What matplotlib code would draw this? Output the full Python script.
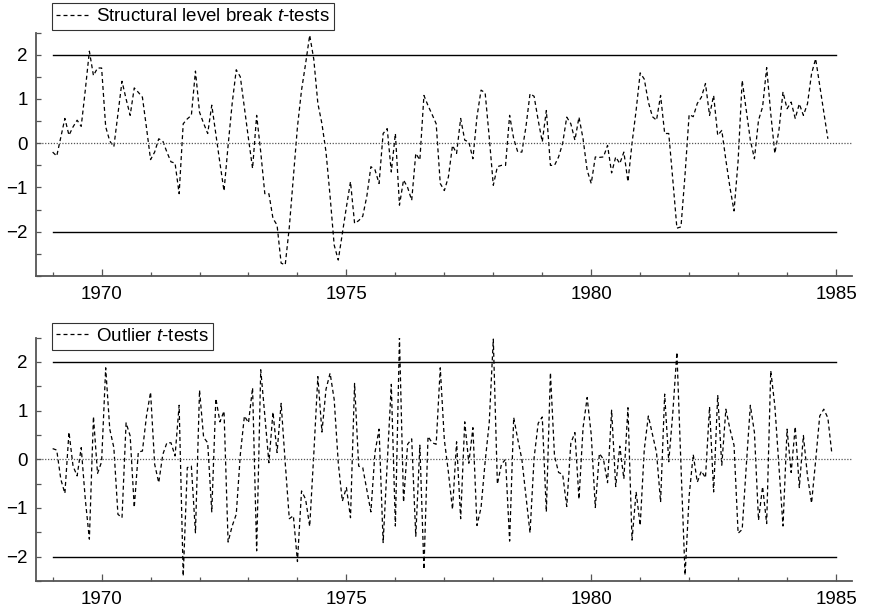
import matplotlib

matplotlib.use("Agg")
import matplotlib.pyplot as plt
import numpy as np

plt.rcParams["font.family"] = ["Liberation Sans", "DejaVu Sans"]
plt.rcParams["mathtext.fontset"] = "custom"
plt.rcParams["mathtext.rm"] = "Liberation Sans"
plt.rcParams["mathtext.it"] = "Liberation Sans:italic"

# Monthly t-statistics, first observation 1969:1
start_year = 1969.0

level_break_t = [
    -0.20, -0.29, 0.14, 0.56, 0.18, 0.37, 0.52, 0.38, 1.20, 2.08, 1.53, 1.70,
    1.70, 0.37, 0.05, -0.08, 0.67, 1.40, 1.00, 0.63, 1.25, 1.15, 1.04, 0.35,
    -0.37, -0.20, 0.10, 0.05, -0.20, -0.42, -0.45, -1.14, 0.44, 0.55, 0.63, 1.63,
    0.70, 0.45, 0.22, 0.86, 0.20, -0.45, -1.08, -0.05, 0.90, 1.66, 1.50, 0.80,
    0.10, -0.57, 0.63, -0.20, -1.14, -1.14, -1.70, -1.85, -2.71, -2.75, -1.90, -0.76,
    0.37, 1.20, 1.80, 2.44, 1.90, 0.90, 0.44, -0.20, -1.20, -2.30, -2.64, -2.04,
    -1.44, -0.87, -1.81, -1.75, -1.65, -1.20, -0.53, -0.60, -0.91, 0.22, 0.33, -0.65,
    0.22, -1.40, -0.83, -1.00, -1.29, -0.23, -0.38, 1.08, 0.85, 0.65, 0.44, -0.91,
    -1.07, -0.76, -0.05, -0.23, 0.56, 0.07, 0.03, -0.35, 0.60, 1.20, 1.14, 0.14,
    -0.95, -0.53, -0.50, -0.50, 0.63, 0.10, -0.20, -0.20, 0.37, 1.12, 1.06, 0.52,
    0.03, 0.74, -0.50, -0.50, -0.31, 0.00, 0.59, 0.44, 0.07, 0.59, 0.10, -0.61,
    -0.91, -0.31, -0.32, -0.31, -0.05, -0.67, -0.31, -0.46, -0.20, -0.87, 0.00, 0.74,
    1.59, 1.45, 0.93, 0.60, 0.52, 1.08, 0.22, 0.22, -0.83, -1.92, -1.89, -0.70,
    0.65, 0.60, 0.90, 1.04, 1.35, 0.63, 1.08, 0.18, 0.29, -0.38, -1.00, -1.53,
    -0.40, 1.42, 0.74, 0.07, -0.35, 0.52, 0.82, 1.71, 0.67, -0.23, 0.29, 1.16,
    0.78, 0.93, 0.56, 0.89, 0.63, 0.89, 1.57, 1.91, 1.31, 0.70, 0.10,
]

outlier_t = [
    0.22, 0.19, -0.41, -0.70, 0.56, -0.14, -0.34, 0.24, -0.82, -1.64, 0.88, -0.29,
    -0.05, 1.88, 0.62, 0.24, -1.13, -1.20, 0.75, 0.48, -0.99, 0.15, 0.17, 0.89,
    1.38, -0.10, -0.48, 0.10, 0.34, 0.34, 0.07, 1.11, -2.40, -0.17, -0.14, -1.51,
    1.42, 0.45, 0.34, -1.08, 1.25, 0.77, 0.99, -1.70, -1.37, -1.13, 0.10, 0.89,
    0.75, 1.47, -1.88, 1.84, 0.90, -0.07, 0.97, 0.14, 1.15, -0.07, -1.22, -1.16,
    -2.10, -0.65, -0.82, -1.38, 0.10, 1.70, 0.56, 1.44, 1.77, 1.23, -0.07, -0.86,
    -0.58, -1.20, 1.56, -0.14, -0.17, -0.62, -1.08, 0.14, 0.62, -1.71, -0.07, 1.54,
    -1.37, 2.50, -0.88, 0.31, 0.42, -1.58, 0.29, -2.26, 0.47, 0.34, 0.31, 1.88,
    0.40, -0.27, -1.03, 0.36, -1.22, 0.77, -0.08, 0.65, -1.36, -0.99, -0.05, 0.75,
    2.47, -0.51, -0.10, 0.00, -1.68, 0.86, 0.41, 0.00, -0.75, -1.51, 0.03, 0.74,
    0.87, -1.08, 1.78, 0.07, -0.27, -0.31, -0.97, 0.33, 0.55, -0.82, 0.65, 1.27,
    0.51, -0.99, 0.12, 0.00, -0.48, 1.01, -0.56, 0.27, -0.40, 1.06, -1.66, -0.67,
    -1.36, 0.20, 0.89, 0.51, 0.14, -0.88, 1.34, -0.05, 0.96, 2.20, -0.14, -2.38,
    -0.75, 0.10, -0.47, -0.24, -0.38, 1.08, -0.67, 1.32, -0.12, 1.03, 0.62, 0.29,
    -1.52, -1.44, -0.14, 1.11, 0.55, -1.25, -0.56, -1.32, 1.82, 1.10, -0.14, -1.37,
    0.62, -0.27, 0.67, -0.58, 0.49, -0.34, -0.90, -0.03, 0.89, 1.03, 0.85, 0.10,
]

critical_value = 2.0
band_years = [1969.0, 1985.0]
year_ticks = [1970, 1975, 1980, 1985]

panels = [
    (level_break_t, r"Structural level break $t$-tests", (-3.0, 2.5), 0.5498, 1 - 3.3 / 613),
    (outlier_t, r"Outlier $t$-tests", (-2.5, 2.5), 0.0522, 1 - 323 / 613),
]

fig = plt.figure(figsize=(8.69, 6.13), dpi=100)
spine_color = "#555555"

for values, label, ylim, bottom, legend_top in panels:
    ax = fig.add_axes([36 / 869, bottom, 815.7 / 869, 0.397])
    years = start_year + np.arange(len(values)) / 12.0

    ax.plot(years, values, color="black", linewidth=0.9, linestyle=(0, (3.2, 2.4)), label=label)
    for level in (critical_value, -critical_value):
        ax.plot(band_years, [level, level], color="black", linewidth=1.0)
    ax.axhline(0.0, color="#555555", linewidth=0.9, linestyle=(0, (1, 1.3)))

    ax.set_xlim(1968.66, 1985.32)
    ax.set_ylim(*ylim)
    ax.set_xticks(year_ticks)
    ax.set_xticks(np.arange(1969, 1986), minor=True)
    ax.set_yticks([-2, -1, 0, 1, 2])
    ax.set_yticks(np.arange(ylim[0], ylim[1] + 0.01, 0.5), minor=True)

    ax.tick_params(axis="both", which="both", direction="in", colors=spine_color,
                   labelcolor="black", labelsize=13.5, width=0.9)
    ax.tick_params(axis="x", which="major", length=5, pad=7)
    ax.tick_params(axis="x", which="minor", length=3)
    ax.tick_params(axis="y", which="both", length=3.5, pad=6)

    for side in ("top", "right"):
        ax.spines[side].set_visible(False)
    for side in ("left", "bottom"):
        ax.spines[side].set_color(spine_color)
        ax.spines[side].set_linewidth(1.3)

    leg = ax.legend(loc="upper left", bbox_to_anchor=(51.7 / 869, legend_top),
                    bbox_transform=fig.transFigure, fontsize=13.5, frameon=True,
                    fancybox=False, borderpad=0.25, borderaxespad=0.0,
                    handlelength=1.8, handletextpad=0.3)
    leg.get_frame().set_edgecolor("black")
    leg.get_frame().set_linewidth(0.8)

fig.savefig("out.png", dpi=100)
